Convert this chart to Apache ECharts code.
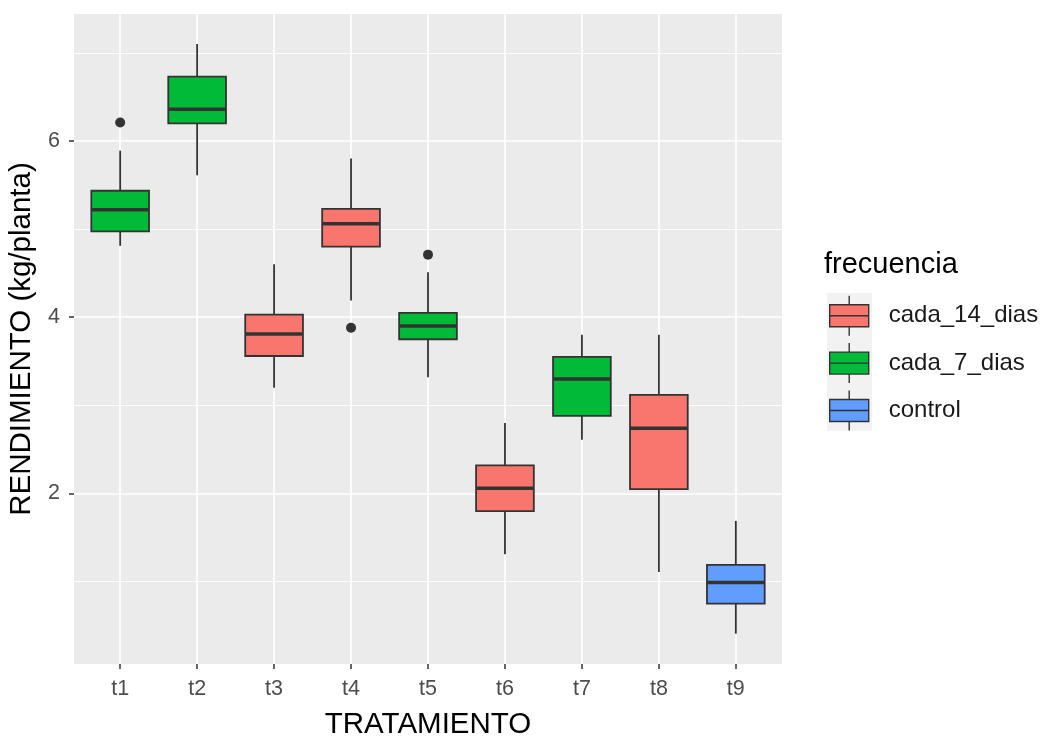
<!DOCTYPE html>
<html lang="es">
<head>
    <meta charset="UTF-8">
    <title>Rendimiento por tratamiento</title>
    <style>
        html, body { margin: 0; padding: 0; background: #fff; }
        #main { width: 1046px; height: 736px; }
    </style>
</head>
<body>
    <div id="main"></div>
    <script src="https://cdn.jsdelivr.net/npm/echarts@6/dist/echarts.min.js"></script>
    <script>
        // datos
        var categories = ['t1', 't2', 't3', 't4', 't5', 't6', 't7', 't8', 't9'];
        var groups = ['cada_14_dias', 'cada_7_dias', 'control'];
        var groupOf = [1, 1, 0, 0, 1, 0, 1, 0, 2];
        var whiskerLow = [4.81, 5.61, 3.20, 4.19, 3.32, 1.31, 2.61, 1.11, 0.41];
        var q1 = [4.975, 6.20, 3.56, 4.80, 3.75, 1.80, 2.88, 2.05, 0.75];
        var median = [5.22, 6.36, 3.81, 5.06, 3.90, 2.06, 3.30, 2.74, 0.99];
        var q3 = [5.435, 6.73, 4.03, 5.23, 4.05, 2.32, 3.55, 3.12, 1.19];
        var whiskerHigh = [5.89, 7.10, 4.60, 5.80, 4.51, 2.80, 3.80, 3.80, 1.69];
        var outlierCat = ['t1', 't4', 't5'];
        var outlierVal = [6.21, 3.88, 4.71];
        var majorTicks = [2, 4, 6];
        var minorTicks = [1, 3, 5, 7];

        var colors = ['#F8766D', '#00BA38', '#619CFF'];
        var font = 'Liberation Sans, Arial, sans-serif';
        var ink = '#333333';

        function renderBox(params, api) {
            var x = api.value(0);
            var half = api.size([1, 0])[0] * 0.75 / 2;
            var lo = api.coord([x, api.value(1)]);
            var b1 = api.coord([x, api.value(2)]);
            var md = api.coord([x, api.value(3)]);
            var b3 = api.coord([x, api.value(4)]);
            var hi = api.coord([x, api.value(5)]);
            var fill = api.visual('color');
            return {
                type: 'group',
                children: [
                    {type: 'line', shape: {x1: hi[0], y1: hi[1], x2: b3[0], y2: b3[1]},
                        style: {stroke: ink, lineWidth: 1.8}},
                    {type: 'line', shape: {x1: b1[0], y1: b1[1], x2: lo[0], y2: lo[1]},
                        style: {stroke: ink, lineWidth: 1.8}},
                    {type: 'rect', shape: {x: b3[0] - half, y: b3[1], width: half * 2, height: b1[1] - b3[1]},
                        style: {fill: fill, stroke: ink, lineWidth: 1.8}},
                    {type: 'line', shape: {x1: md[0] - half, y1: md[1], x2: md[0] + half, y2: md[1]},
                        style: {stroke: ink, lineWidth: 3.6}}
                ]
            };
        }

        var series = groups.map(function (g, gi) {
            var data = [];
            categories.forEach(function (c, i) {
                if (groupOf[i] === gi) {
                    data.push([i + 1, whiskerLow[i], q1[i], median[i], q3[i], whiskerHigh[i]]);
                }
            });
            return {
                name: g,
                type: 'custom',
                renderItem: renderBox,
                color: colors[gi],
                encode: {x: 0, y: [1, 2, 3, 4, 5]},
                data: data,
                z: 3
            };
        });

        series.push({
            name: 'outliers',
            type: 'scatter',
            symbolSize: 10,
            itemStyle: {color: ink, opacity: 1},
            data: outlierCat.map(function (c, i) { return [categories.indexOf(c) + 1, outlierVal[i]]; }),
            z: 4
        });

        var tickPos = categories.map(function (c, i) { return i + 1; });
        var yMin = 0.066, yMax = 7.44;

        var chart = echarts.init(document.getElementById('main'));
        chart.setOption({
            animation: false,
            backgroundColor: '#ffffff',
            textStyle: {fontFamily: font},
            title: {
                text: 'frecuencia',
                left: 824,
                top: 250,
                padding: 0,
                textStyle: {fontFamily: font, fontSize: 29, fontWeight: 'normal', color: '#000'}
            },
            legend: {
                data: groups,
                orient: 'vertical',
                left: 829,
                top: 295,
                padding: 0,
                itemWidth: 39,
                itemHeight: 40,
                itemGap: 6,
                icon: 'path://M19.5,0L19.5,9M0,9L39,9L39,31L0,31ZM0,20L39,20M19.5,31L19.5,40',
                itemStyle: {borderColor: ink, borderWidth: 1.4},
                textStyle: {fontFamily: font, fontSize: 24, color: '#1a1a1a', padding: [0, 0, 0, 15]},
                selectedMode: false
            },
            graphic: [{
                type: 'rect',
                z: -1,
                shape: {x: 827, y: 293, width: 45, height: 138},
                style: {fill: '#F2F2F2'}
            }],
            grid: {
                left: 74, right: 264, top: 14, bottom: 72,
                outerBoundsMode: 'none',
                show: true, backgroundColor: '#EBEBEB', borderWidth: 0
            },
            xAxis: {
                type: 'value',
                min: 0.4,
                max: 9.6,
                name: 'TRATAMIENTO',
                nameLocation: 'middle',
                nameGap: 46,
                nameTextStyle: {fontFamily: font, fontSize: 29.5, color: '#000'},
                axisLine: {show: false},
                axisTick: {show: true, length: 5, customValues: tickPos, lineStyle: {color: ink, width: 1.5}},
                axisLabel: {
                    customValues: tickPos,
                    margin: 14,
                    fontSize: 21.5,
                    color: '#4D4D4D',
                    formatter: function (v) { return categories[v - 1]; }
                },
                splitLine: {show: true, lineStyle: {color: '#ffffff', width: 1.7}}
            },
            yAxis: [{
                type: 'value',
                min: yMin,
                max: yMax,
                name: 'RENDIMIENTO (kg/planta)',
                nameLocation: 'middle',
                nameGap: 24,
                nameTextStyle: {fontFamily: font, fontSize: 29.5, color: '#000'},
                axisLine: {show: false},
                axisTick: {show: true, length: 5, customValues: majorTicks, lineStyle: {color: ink, width: 1.5}},
                axisLabel: {customValues: majorTicks, margin: 14, fontSize: 21.5, color: '#4D4D4D'},
                splitLine: {show: true, lineStyle: {color: '#ffffff', width: 1.7}}
            }, {
                type: 'value',
                min: yMin,
                max: yMax,
                position: 'left',
                axisLine: {show: false},
                axisTick: {show: false, customValues: minorTicks},
                axisLabel: {show: false, customValues: minorTicks},
                splitLine: {show: true, lineStyle: {color: '#ffffff', width: 0.9}}
            }],
            series: series
        });
    </script>
</body>
</html>
